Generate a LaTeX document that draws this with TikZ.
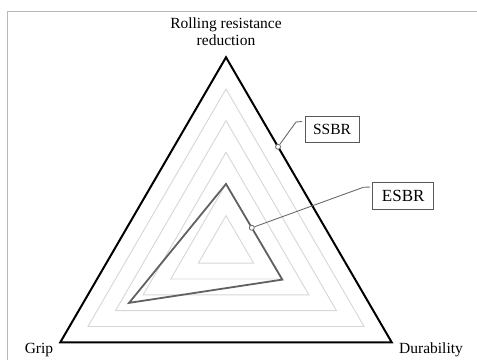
\documentclass[tikz,border=0pt]{standalone}
\usepackage{fontspec}
\setmainfont{Liberation Serif}
\usetikzlibrary{calc}
\begin{document}
\begin{tikzpicture}[x=1pt,y=-1pt,
  ring/.style={draw=black!16,line width=0.9pt,line join=miter},
  outer/.style={draw=black,line width=2pt,line join=miter},
  esbrline/.style={draw=black!62,line width=1.8pt,line join=miter},
  leader/.style={draw=black!58,line width=0.9pt},
  dot/.style={circle,draw=black!60,fill=white,line width=0.8pt,inner sep=0pt,minimum size=5pt},
  tag/.style={draw=black!65,line width=1pt,inner sep=0pt,font=\fontsize{15.5}{17}\selectfont},
  axislab/.style={font=\fontsize{15.5}{17}\selectfont,inner sep=0pt,anchor=base}]
\useasboundingbox (0,0) rectangle (477,360);
% frame
\draw[draw=black!28,line width=0.8pt] (7,360) -- (7,11) -- (477,11);
% geometry
\coordinate (A) at (226,57.3);
\coordinate (L) at (60.3,342.3);
\coordinate (R) at (391.7,342.3);
\coordinate (C) at (226,247.3);
% gray rings
\foreach \k in {0.1667,0.3333,0.5,0.6667,0.8333}{
  \draw[ring] ($(C)!\k!(A)$) -- ($(C)!\k!(R)$) -- ($(C)!\k!(L)$) -- cycle;
}
% outer triangle (SSBR)
\draw[outer] (A) -- (R) -- (L) -- cycle;
% ESBR polygon
\coordinate (Ea) at ($(C)!0.3333!(A)$);
\coordinate (Er) at ($(C)!0.34!(R)$);
\coordinate (El) at ($(C)!0.585!(L)$);
\draw[esbrline] (Ea) -- (Er) -- (El) -- cycle;
% labels
\node[axislab] (rr1) at (226,28.5) {Rolling resistance};
\node[axislab] (rr2) at (226,45.5) {reduction};
\node[axislab] (grip) at (39,353) {Grip};
\node[axislab] (dur) at (431,353) {Durability};
% tags
\node[tag,minimum width=54pt,minimum height=26.5pt] (ssbr) at (332,129.3) {SSBR};
\node[tag,minimum width=61.5pt,minimum height=26.5pt,font=\fontsize{17}{19}\selectfont] (esbr) at (403.2,196) {ESBR};
% leaders
\coordinate (s1) at (296,122);
\coordinate (s2) at (302,121.5);
\coordinate (e1) at (363.3,187.3);
\coordinate (e2) at (370,187);
\node[dot] (sd) at ($(A)!0.314!(R)$) {};
\node[dot] (ed) at ($(Ea)!0.458!(Er)$) {};
\draw[leader] (sd) -- (s1) -- (s2);
\draw[leader] (ed) -- (e1) -- (e2);
\end{tikzpicture}
\end{document}
